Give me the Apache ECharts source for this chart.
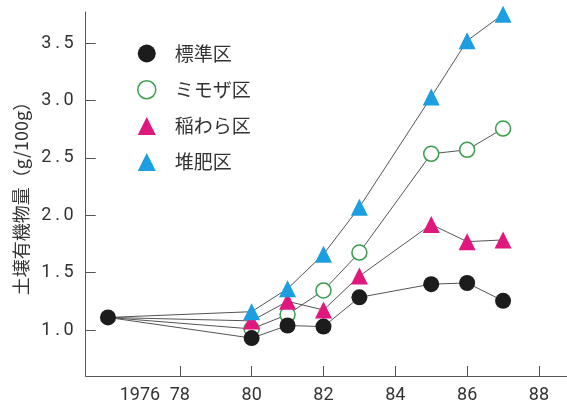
<!DOCTYPE html>
<html><head><meta charset="utf-8">
<script src="https://cdn.jsdelivr.net/npm/echarts@6/dist/echarts.min.js"></script>
<style>html,body{margin:0;padding:0;background:#fff}#c{width:567px;height:407px}</style>
</head><body><div id="c"></div>
<script>
const years = [1976, 1980, 1981, 1982, 1983, 1985, 1986, 1987];
const seriesNames = ['標準区', 'ミモザ区', '稲わら区', '堆肥区'];
const standard = [1.11, 0.93, 1.04, 1.03, 1.285, 1.40, 1.41, 1.255];
const mimosa   = [1.11, 1.01, 1.135, 1.345, 1.675, 2.535, 2.57, 2.755];
const straw    = [1.11, 1.08, 1.25, 1.175, 1.47, 1.92, 1.77, 1.785];
const compost  = [1.11, 1.16, 1.36, 1.66, 2.07, 3.03, 3.52, 3.75];
const xTickValues = [1978, 1980, 1982, 1984, 1986, 1988];
const xLabelValues = [1976, 1978, 1980, 1982, 1984, 1986, 1988];
const xTickLabels = ['1976', '78', '80', '82', '84', '86', '88'];
const yTickValues = [1.0, 1.5, 2.0, 2.5, 3.0, 3.5];
const yAxisName = '土壌有機物量（g/100g）';

const numFont = "'Liberation Sans Narrow', 'Roboto', sans-serif";
const cjkFont = "'Noto Sans CJK JP', sans-serif";
const lineColor = '#555';

function mk(vals, hideFirst) {
  return vals.map((v, i) => {
    const d = { value: [years[i], v] };
    if (hideFirst && i === 0) d.symbol = 'none';
    return d;
  });
}

const styles = {
  '標準区': { symbol: 'circle', symbolSize: 16, itemStyle: { color: '#1c1c1c', borderWidth: 0 } },
  'ミモザ区': { symbol: 'circle', symbolSize: 15, itemStyle: { color: '#ffffff', borderColor: '#3a9d4c', borderWidth: 1.5 } },
  '稲わら区': { symbol: 'triangle', symbolSize: 17, itemStyle: { color: '#e0187e', borderWidth: 0 } },
  '堆肥区': { symbol: 'triangle', symbolSize: 17, itemStyle: { color: '#1b9fe0', borderWidth: 0 } }
};
const dataMap = { '標準区': standard, 'ミモザ区': mimosa, '稲わら区': straw, '堆肥区': compost };
const drawOrder = ['ミモザ区', '稲わら区', '堆肥区', '標準区'];

const chart = echarts.init(document.getElementById('c'), null, { renderer: 'canvas' });
chart.setOption({
  animation: false,
  backgroundColor: '#fff',
  grid: { left: 85.7, right: 0, top: 12, bottom: 31, containLabel: false },
  legend: {
    orient: 'vertical', left: 132, top: 39, itemWidth: 18, itemHeight: 18, itemGap: 17,
    textStyle: { fontFamily: cjkFont, fontSize: 19, color: '#333', padding: [0, 0, 0, 14] },
    data: seriesNames.map(n => ({ name: n, icon: styles[n].symbol, itemStyle: styles[n].itemStyle }))
  },
  xAxis: {
    type: 'value', min: 1975.38, max: 1988.78,
    axisLine: { lineStyle: { color: lineColor, width: 1 } },
    axisTick: { inside: true, length: 10, customValues: xTickValues, lineStyle: { color: lineColor } },
    splitLine: { show: false },
    axisLabel: {
      customValues: xLabelValues, margin: 10, color: '#333', fontFamily: numFont, fontSize: 18,
      formatter: v => {
        const i = xLabelValues.indexOf(v);
        const t = i >= 0 ? xTickLabels[i] : '';
        return i === 0 ? '{f|' + t + '}' : t;
      },
      rich: { f: { padding: [0, 0, 0, 64], fontFamily: numFont, fontSize: 18, color: '#333' } }
    }
  },
  yAxis: {
    type: 'value', min: 0.6, max: 3.77,
    name: yAxisName, nameLocation: 'middle', nameGap: 56, nameRotate: 90,
    nameTextStyle: { fontFamily: cjkFont, fontSize: 18, color: '#333' },
    axisLine: { show: true, lineStyle: { color: lineColor, width: 1 } },
    axisTick: { show: true, inside: true, length: 10, customValues: yTickValues, lineStyle: { color: lineColor } },
    splitLine: { show: false },
    axisLabel: {
      customValues: yTickValues, margin: 12, color: '#333', fontFamily: numFont, fontSize: 18,
      formatter: v => v.toFixed(1).split('').join('\u2009')
    }
  },
  series: drawOrder.map(n => ({
    name: n, type: 'line', data: mk(dataMap[n], n !== '標準区'),
    symbol: styles[n].symbol, symbolSize: styles[n].symbolSize,
    itemStyle: styles[n].itemStyle,
    lineStyle: { color: lineColor, width: 1 },
    z: n === '標準区' ? 5 : 3,
    emphasis: { disabled: true }
  }))
});
</script></body></html>
